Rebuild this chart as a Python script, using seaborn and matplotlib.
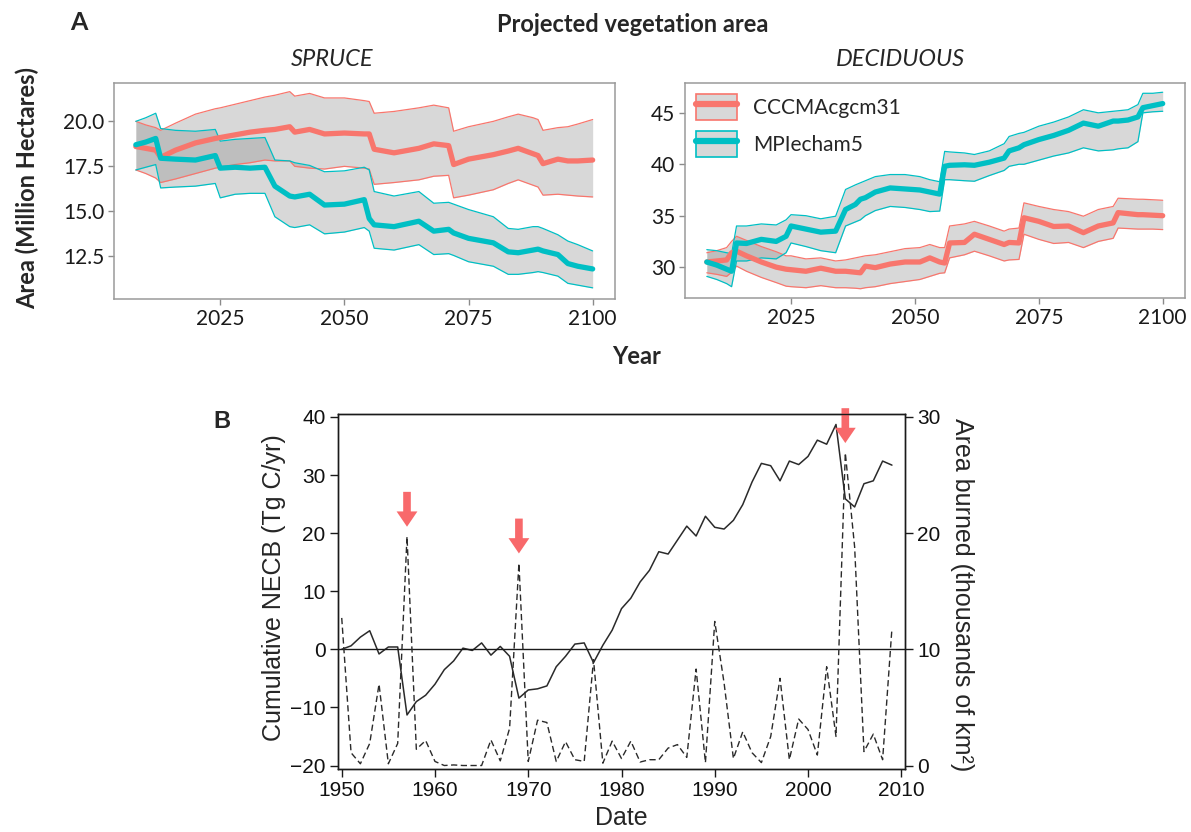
import numpy as np
import pandas as pd
import matplotlib
matplotlib.use("Agg")
import matplotlib.pyplot as plt
import seaborn as sns
from matplotlib.patches import Patch
from matplotlib.lines import Line2D
from matplotlib.legend_handler import HandlerTuple

# ---------------- DATA ----------------
models = ["CCCMAcgcm31", "MPIecham5"]

spruce_years = [2008, 2010, 2012, 2013, 2016, 2020, 2024, 2025, 2028, 2031, 2034, 2036,
                2039, 2040, 2043, 2046, 2050, 2054, 2055, 2056, 2060, 2065, 2068, 2071,
                2072, 2075, 2080, 2083, 2085, 2088, 2089, 2090, 2093, 2095, 2097, 2100]
spruce_cccma_mean = [18.6, 18.5, 18.4, 18.0, 18.4, 18.8, 19.05, 19.1, 19.25, 19.4, 19.5, 19.55,
                     19.7, 19.4, 19.55, 19.3, 19.35, 19.3, 19.3, 18.45, 18.25, 18.5, 18.75, 18.65,
                     17.6, 17.9, 18.15, 18.35, 18.5, 18.2, 18.1, 17.65, 17.9, 17.8, 17.8, 17.85]
spruce_cccma_hi = [20.0, 19.8, 19.65, 19.5, 19.9, 20.4, 20.7, 20.75, 20.95, 21.15, 21.35, 21.45,
                   21.65, 21.4, 21.55, 21.3, 21.3, 21.15, 21.1, 20.45, 20.55, 20.75, 20.9, 20.75,
                   19.45, 19.7, 20.0, 20.25, 20.4, 20.2, 20.1, 19.5, 19.65, 19.7, 19.85, 20.1]
spruce_cccma_lo = [17.3, 17.1, 16.85, 16.6, 16.8, 17.1, 17.4, 17.45, 17.6, 17.7, 17.85, 17.8,
                   17.8, 17.5, 17.4, 17.35, 17.5, 17.4, 17.35, 16.5, 16.6, 16.75, 16.95, 17.0,
                   15.75, 15.9, 16.2, 16.55, 16.75, 16.45, 16.35, 15.9, 15.95, 15.9, 15.85, 15.8]
spruce_mpi_mean = [18.7, 18.85, 19.05, 17.95, 17.9, 17.85, 18.1, 17.4, 17.45, 17.4, 17.45, 16.4,
                   15.85, 15.8, 15.95, 15.35, 15.4, 15.65, 14.6, 14.25, 14.15, 14.45, 13.9, 14.0,
                   13.8, 13.5, 13.25, 12.75, 12.7, 12.85, 12.9, 12.8, 12.6, 12.1, 11.95, 11.8]
spruce_mpi_hi = [20.0, 20.2, 20.45, 19.6, 19.5, 19.45, 19.55, 18.9, 19.0, 19.05, 19.1, 17.85,
                 17.8, 17.7, 17.55, 17.2, 17.25, 17.45, 17.3, 16.1, 15.85, 16.1, 15.45, 15.5,
                 15.4, 15.1, 14.7, 14.05, 14.0, 14.15, 14.15, 14.05, 13.7, 13.35, 13.15, 12.8]
spruce_mpi_lo = [17.3, 17.45, 17.6, 16.3, 16.35, 16.4, 16.55, 15.75, 15.95, 16.0, 16.0, 14.7,
                 14.15, 14.1, 14.25, 13.75, 13.85, 14.1, 13.9, 12.95, 12.85, 13.15, 12.6, 12.65,
                 12.55, 12.2, 11.95, 11.5, 11.5, 11.6, 11.65, 11.6, 11.4, 11.0, 10.9, 10.75]

decid_years = [2008, 2010, 2012, 2013, 2014, 2016, 2019, 2022, 2024, 2025, 2028, 2031, 2034,
               2036, 2038, 2039, 2040, 2042, 2045, 2048, 2051, 2053, 2055, 2056, 2057, 2060,
               2062, 2065, 2068, 2069, 2071, 2072, 2075, 2078, 2081, 2084, 2087, 2090, 2091,
               2093, 2095, 2096, 2098, 2100]
decid_cccma_mean = [30.5, 30.6, 30.7, 31.4, 31.55, 31.1, 30.5, 30.0, 29.8, 29.75, 29.6, 29.9, 29.6,
                    29.6, 29.5, 29.45, 30.1, 29.95, 30.3, 30.5, 30.5, 30.9, 30.5, 30.4, 32.35, 32.4,
                    33.2, 32.7, 32.2, 32.4, 32.35, 34.8, 34.45, 33.95, 34.0, 33.35, 34.0, 34.3, 35.3,
                    35.2, 35.1, 35.1, 35.05, 35.0]
decid_cccma_hi = [31.4, 31.6, 31.9, 32.5, 33.0, 32.6, 32.0, 31.5, 31.1, 31.1, 30.8, 30.9, 30.6,
                  30.7, 30.9, 31.0, 31.1, 31.2, 31.5, 31.8, 31.9, 32.2, 31.9, 31.9, 34.0, 34.2,
                  34.45, 34.0, 33.5, 33.7, 33.8, 36.25, 35.9, 35.6, 35.4, 34.95, 35.6, 35.9, 36.7,
                  36.65, 36.6, 36.6, 36.55, 36.5]
decid_cccma_lo = [29.45, 29.3, 29.1, 29.5, 30.1, 29.6, 29.0, 28.5, 28.15, 28.1, 28.0, 28.2, 28.0,
                  28.0, 27.95, 27.9, 28.0, 28.1, 28.4, 28.6, 28.8, 29.1, 29.4, 29.45, 30.9, 31.2,
                  31.55, 31.1, 30.6, 30.7, 30.75, 33.2, 32.7, 32.3, 32.4, 31.9, 32.5, 32.8, 33.8,
                  33.75, 33.7, 33.7, 33.7, 33.65]
decid_mpi_mean = [30.5, 30.2, 29.8, 29.6, 32.35, 32.3, 32.7, 32.5, 33.0, 34.0, 33.7, 33.4, 33.5,
                  35.6, 36.1, 36.6, 36.75, 37.3, 37.7, 37.6, 37.5, 37.3, 37.1, 39.8, 39.9, 39.95,
                  39.9, 40.2, 40.6, 41.3, 41.6, 41.9, 42.4, 42.8, 43.3, 44.0, 43.7, 44.2, 44.2,
                  44.3, 44.6, 45.5, 45.7, 45.9]
decid_mpi_hi = [31.7, 31.6, 31.4, 31.3, 34.0, 34.0, 34.2, 34.1, 34.6, 35.1, 35.0, 34.7, 34.95,
                37.55, 38.0, 38.2, 38.4, 38.8, 39.0, 39.0, 38.8, 38.5, 38.3, 41.25, 41.2, 41.1,
                40.95, 41.3, 42.0, 42.7, 43.0, 43.1, 43.7, 44.1, 44.6, 45.3, 45.0, 45.15, 45.2,
                45.3, 45.8, 46.9, 46.9, 47.0]
decid_mpi_lo = [29.1, 28.8, 28.4, 28.1, 30.6, 30.6, 30.9, 30.8, 31.4, 32.35, 32.0, 31.6, 31.4,
                34.0, 34.4, 34.6, 35.0, 35.5, 35.9, 35.8, 35.6, 35.4, 35.45, 38.5, 38.5, 38.4,
                38.35, 38.9, 39.4, 39.8, 40.0, 40.0, 40.4, 40.8, 41.1, 41.6, 41.3, 41.4, 41.5,
                41.6, 42.2, 45.0, 45.1, 45.15]

years_b = np.arange(1950, 2010)
necb = [0.0, 0.6, 2.1, 3.2, -0.8, 0.4, 0.4, -11.3, -9.0, -7.9,
        -6.0, -3.5, -2.0, 0.2, -0.2, 1.1, -1.0, 0.5, -1.2, -8.4,
        -7.0, -6.8, -6.3, -3.0, -1.2, 0.9, 1.1, -2.3, 0.7, 3.3,
        7.0, 8.8, 11.6, 13.6, 16.8, 16.4, 18.8, 21.2, 19.5, 22.9,
        21.0, 20.7, 22.2, 24.9, 28.8, 32.0, 31.6, 29.0, 32.4, 31.8,
        33.2, 36.0, 35.3, 38.7, 25.9, 24.5, 28.5, 29.0, 32.4, 31.7]
burned = [12.7, 1.1, 0.15, 1.9, 7.0, 0.15, 1.9, 19.7, 1.4, 2.15,
          0.35, 0.0, 0.05, 0.0, 0.0, 0.0, 2.2, 0.4, 3.2, 17.4,
          0.35, 3.9, 3.7, 0.35, 2.05, 0.5, 0.35, 9.1, 0.2, 2.1,
          0.6, 2.1, 0.3, 0.5, 0.5, 1.5, 1.8, 0.7, 8.3, 0.25,
          12.4, 7.1, 0.6, 2.9, 1.1, 0.25, 2.5, 7.5, 0.5, 4.0,
          3.1, 0.9, 8.5, 2.5, 26.9, 18.8, 1.2, 2.7, 0.5, 11.8]
arrow_years = [1957, 1969, 2004]

# ---------------- STYLE ----------------
sns.set_theme(style="white")
plt.rcParams["font.family"] = ["Lato", "DejaVu Sans"]

RED = "#F8766D"
TEAL = "#00BFC4"
FILL = "#888888"
FILL_A = 0.32
ARROW = "#F8696B"
W, H = 1191, 832

fig = plt.figure(figsize=(W / 100, H / 100), dpi=100)


def fx(px):
    return px / W


def fy(py):
    return 1 - py / H


def panel(ax, years, series, ylim, yticks, ytick_labels):
    # ribbons first
    for (mean, lo, hi, col) in series:
        ax.fill_between(years, lo, hi, facecolor=FILL, alpha=FILL_A, linewidth=0, zorder=1)
    for (mean, lo, hi, col) in series:
        sns.lineplot(x=years, y=hi, ax=ax, color=col, linewidth=0.9, zorder=2)
        sns.lineplot(x=years, y=lo, ax=ax, color=col, linewidth=0.9, zorder=2)
    for (mean, lo, hi, col) in series:
        sns.lineplot(x=years, y=mean, ax=ax, color=col, linewidth=3.8, zorder=3,
                     solid_joinstyle="round")
    ax.set_xlim(2003.6, 2104.5)
    ax.set_ylim(*ylim)
    ax.set_xticks([2025, 2050, 2075, 2100])
    ax.set_yticks(yticks)
    ax.set_yticklabels(ytick_labels)
    ax.set_xlabel("")
    ax.set_ylabel("")
    ax.tick_params(axis="both", which="both", bottom=True, left=True, length=4, width=1,
                   color="#8a8a8a", labelsize=15, labelcolor="#1a1a1a", pad=3)
    for s in ax.spines.values():
        s.set_visible(True)
        s.set_color("#9a9a9a")
        s.set_linewidth(1.1)


# Panel A - spruce
ax1 = fig.add_axes([fx(114), fy(299), fx(615) - fx(114), fy(83) - fy(299)])
panel(ax1, spruce_years,
      [(spruce_cccma_mean, spruce_cccma_lo, spruce_cccma_hi, RED),
       (spruce_mpi_mean, spruce_mpi_lo, spruce_mpi_hi, TEAL)],
      (10.13, 22.13), [12.5, 15.0, 17.5, 20.0], ["12.5", "15.0", "17.5", "20.0"])

# Panel A - deciduous
ax2 = fig.add_axes([fx(685), fy(298), fx(1185) - fx(685), fy(83) - fy(298)])
panel(ax2, decid_years,
      [(decid_cccma_mean, decid_cccma_lo, decid_cccma_hi, RED),
       (decid_mpi_mean, decid_mpi_lo, decid_mpi_hi, TEAL)],
      (27.0, 47.9), [30, 35, 40, 45], ["30", "35", "40", "45"])

handles = []
for col in (RED, TEAL):
    handles.append((Patch(facecolor=FILL, alpha=FILL_A, edgecolor="none"),
                    Patch(facecolor="none", edgecolor=col, linewidth=1.2),
                    Line2D([], [], color=col, linewidth=4.5)))
ax2.legend(handles, models, handler_map={tuple: HandlerTuple(ndivide=1, pad=0)},
           loc="upper left", frameon=False, fontsize=15, handlelength=1.95,
           handleheight=1.5, handletextpad=0.75, labelspacing=0.55,
           borderaxespad=0.35, borderpad=0.2)

# Panel A texts
fig.text(fx(79), fy(23), "A", fontsize=18, fontweight="bold", ha="center", va="center")
fig.text(fx(633), fy(25), "Projected vegetation area", fontsize=17, fontweight="bold",
         ha="center", va="center")
fig.text(fx(332), fy(60), "SPRUCE", fontsize=17, fontstyle="italic", ha="center", va="center")
fig.text(fx(900), fy(60), "DECIDUOUS", fontsize=17, fontstyle="italic", ha="center", va="center")
fig.text(fx(27), fy(188), "Area (Million Hectares)", fontsize=17, fontweight="bold",
         rotation=90, ha="center", va="center")
fig.text(fx(637), fy(357), "Year", fontsize=17, fontweight="bold", ha="center", va="center")

# ---------------- Panel B ----------------
BF = "Liberation Sans"
axb = fig.add_axes([fx(338), fy(769), fx(905) - fx(338), fy(414) - fy(769)])
axr = axb.twinx()
sns.lineplot(x=years_b, y=necb, ax=axb, color="#2a2a2a", linewidth=1.1)
axb.axhline(0, color="#1a1a1a", linewidth=1.0)
sns.lineplot(x=years_b, y=burned, ax=axr, color="#2a2a2a", linewidth=1.0,
             linestyle=(0, (4.5, 2.5)))

ylo, yhi = -20.6, 40.5
axb.set_xlim(1949.6, 2010.4)
axb.set_ylim(ylo, yhi)
axr.set_ylim((ylo + 20) / 2, (yhi + 20) / 2)
axb.set_xticks([1950, 1960, 1970, 1980, 1990, 2000, 2010])
axb.set_yticks([-20, -10, 0, 10, 20, 30, 40])
axr.set_yticks([0, 10, 20, 30])
for a in (axb, axr):
    a.set_xlabel("")
    a.set_ylabel("")
    a.grid(False)
    a.tick_params(axis="both", length=6, width=1, color="#1a1a1a", labelsize=15,
                  labelcolor="#111111", labelfontfamily=BF, pad=3, direction="out")
    for s in a.spines.values():
        s.set_visible(True)
        s.set_color("#1a1a1a")
        s.set_linewidth(1.0)
axb.tick_params(axis="x", bottom=True)
axb.tick_params(axis="y", left=True)
axr.tick_params(axis="y", right=True, left=False, labelright=True, labelleft=False)

for yr in arrow_years:
    peak = burned[list(years_b).index(yr)]
    tip = 2 * peak - 20 + 1.7
    axb.annotate("", xy=(yr, tip), xytext=(yr, tip + 6.0),
                 arrowprops=dict(facecolor=ARROW, edgecolor="none", width=5.5,
                                 headwidth=15, headlength=11, shrink=0),
                 annotation_clip=False)

fig.text(fx(222), fy(422), "B", fontsize=17, fontweight="bold", family=BF,
         ha="center", va="center")
fig.text(fx(274), fy(588), "Cumulative NECB (Tg C/yr)", fontsize=18, family=BF,
         rotation=90, ha="center", va="center")
fig.text(fx(962), fy(595), "Area burned (thousands of km²)", fontsize=18, family=BF,
         rotation=270, ha="center", va="center")
fig.text(fx(621), fy(818), "Date", fontsize=18, family=BF, ha="center", va="center")

fig.savefig("out.png", dpi=100)
